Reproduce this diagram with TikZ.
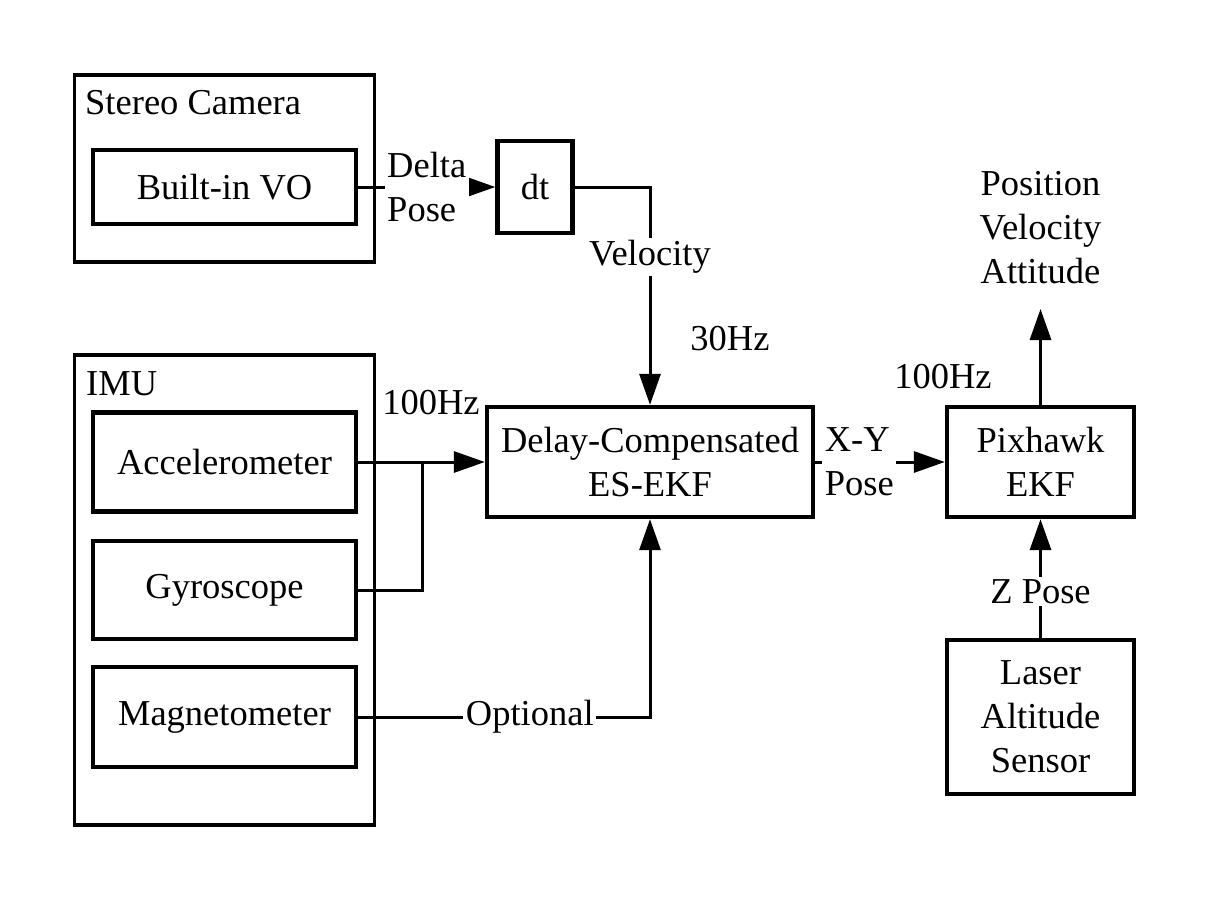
\documentclass[tikz,border=0pt]{standalone}
\usepackage{fontspec}
\setmainfont{Liberation Serif}
\usetikzlibrary{arrows.meta}
\begin{document}
\begin{tikzpicture}[x=1pt,y=-1pt,
  every node/.style={font=\fontsize{36.5}{44}\selectfont, inner sep=0pt},
  outerbox/.style={draw, line width=3.2pt, minimum width=300pt},
  innerbox/.style={draw, line width=4.3pt, align=center},
  conn/.style={line width=3pt},
  arr/.style={conn, -{Triangle[length=31pt,width=21pt]}},
  lbl/.style={fill=white, inner sep=2.5pt},
  plain/.style={align=center}
]
\useasboundingbox (0,0) rectangle (1209,900);

% Stereo camera group
\node[outerbox, minimum height=187pt] (stereo) at (224.5,168.5) {};
\node[anchor=base west] (stereolbl) at (85,114) {Stereo Camera};
\node[innerbox, minimum width=263pt, minimum height=74pt] (vo) at (224.5,187) {Built-in VO};
\node[innerbox, minimum width=75pt, minimum height=92pt] (dt) at (535,187) {dt};

% IMU group
\node[outerbox, minimum height=470pt] (imu) at (224.5,590) {};
\node[anchor=base west] (imulbl) at (86,395) {IMU};
\node[innerbox, minimum width=263pt, minimum height=99pt] (acc) at (224.5,462) {Accelerometer};
\node[innerbox, minimum width=263pt, minimum height=98pt] (gyro) at (224.5,590) {Gyroscope};
\node[innerbox, minimum width=263pt, minimum height=100pt] (mag) at (224.5,717) {Magnetometer};

% Filters
\node[innerbox, minimum width=326pt, minimum height=110pt] (ekf) at (650,462) {Delay-Compensated\\ES-EKF};
\node[innerbox, minimum width=187pt, minimum height=110pt] (pix) at (1040.5,462) {Pixhawk\\EKF};
\node[innerbox, minimum width=187pt, minimum height=154pt] (laser) at (1040.5,717) {Laser\\Altitude\\Sensor};

% Output
\node[plain] (out) at (1040.5,228) {Position\\Velocity\\Attitude};
\coordinate (outtip) at (1040.5,309);

% Rate labels
\node[anchor=base] (hz30) at (730,350) {30Hz};
\node[anchor=base] (hz100a) at (431,414) {100Hz};
\node[anchor=base] (hz100b) at (943,388) {100Hz};

% Connectors
\draw[arr] (vo.east) -- node[lbl, align=left, pos=0.5] (dp) {Delta\\Pose} (dt.west);
\draw[arr] (dt.east) -| node[lbl, pos=0.66] (vel) {Velocity} (ekf.north);
\coordinate (jn) at (422,462);
\draw[arr] (acc.east) -- (ekf.west);
\draw[conn] (gyro.east) -| (jn);
\draw[arr] (mag.east) -| node[lbl, pos=0.294] (opt) {Optional} (ekf.south);
\draw[arr] (ekf.east) -- node[lbl, align=left, pos=0.34] (xy) {X-Y\\Pose} (pix.west);
\draw[arr] (laser.north) -- node[lbl, pos=0.39] (zp) {Z Pose} (pix.south);
\draw[arr] (pix.north) -- (outtip);
\end{tikzpicture}
\end{document}
